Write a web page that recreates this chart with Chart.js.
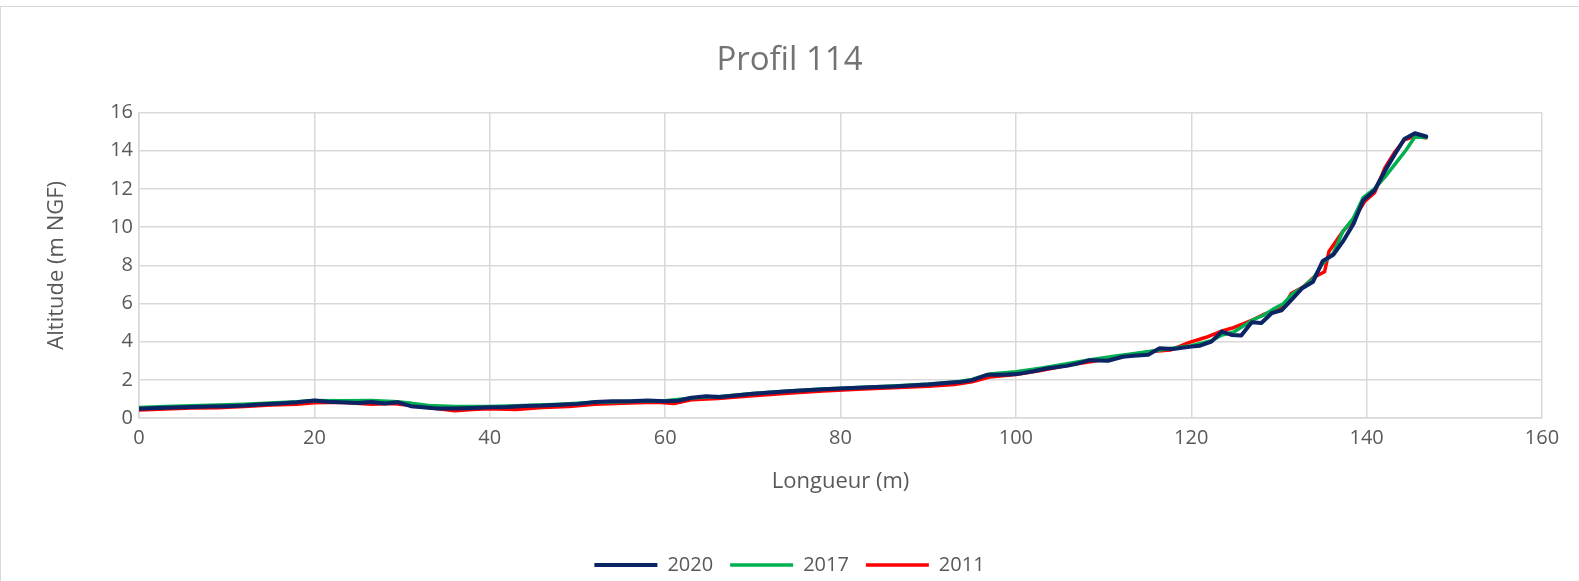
<!DOCTYPE html>
<html>
<head>
<meta charset="utf-8">
<script src="https://cdn.jsdelivr.net/npm/chart.js@4"></script>
<style>
  html, body { margin: 0; padding: 0; background: #fff; overflow: hidden; }
  #frame { position: absolute; left: 0; top: 6px; width: 1700px; height: 700px; border-top: 1.5px solid #d9d9d9; border-left: 1.5px solid #d9d9d9; }
  #wrap { position: absolute; left: 0; top: 0; width: 1579px; height: 581px; }
</style>
</head>
<body>
<div id="frame"></div>
<div id="wrap"><canvas id="profil" width="1579" height="581"></canvas></div>
<script>
// Profil 114 - longueur (m) / altitude (m NGF)
const x2020 = [0, 2, 4, 6, 8, 10, 12, 14, 16, 18, 20, 21.5, 23, 25, 26.5, 28, 29.5, 31, 32, 34,
  36, 38, 40, 42, 44, 46, 48, 50, 52, 54, 56, 58, 60, 61.5, 63, 64.7, 66.2, 68, 70, 72,
  74, 76, 78, 80, 82, 84, 86, 88, 90, 92, 93.5, 95, 96.7, 98.5, 100.1, 102, 103.5, 105.8, 107, 108.4,
  110.5, 112.2, 113.4, 115.1, 116.4, 117.9, 120, 121, 122.3, 123.5, 124.6, 125.7, 126.9, 128, 129.2, 130.3, 131.4, 132.6, 133.9, 135,
  136.2, 137.3, 138.5, 139.6, 140.9, 142.1, 143.2, 144.3, 145.5, 146.8];
const y2020 = [0.48, 0.52, 0.55, 0.58, 0.6, 0.62, 0.65, 0.72, 0.76, 0.82, 0.92, 0.85, 0.83, 0.78, 0.84, 0.76, 0.83, 0.62, 0.58, 0.5,
  0.5, 0.52, 0.56, 0.58, 0.63, 0.65, 0.7, 0.74, 0.84, 0.88, 0.88, 0.92, 0.88, 0.9, 1.06, 1.14, 1.1, 1.18, 1.27, 1.33,
  1.4, 1.46, 1.5, 1.55, 1.58, 1.62, 1.65, 1.7, 1.75, 1.83, 1.88, 1.98, 2.26, 2.27, 2.3, 2.45, 2.59, 2.73, 2.85, 3.03,
  3.0, 3.21, 3.26, 3.31, 3.66, 3.61, 3.74, 3.79, 4.0, 4.53, 4.35, 4.32, 5.02, 4.98, 5.5, 5.64, 6.17, 6.78, 7.14, 8.23,
  8.55, 9.25, 10.16, 11.4, 11.93, 12.95, 13.8, 14.62, 14.92, 14.75];

const x2017 = [0, 3, 6, 9, 12, 15, 18, 20, 23, 26.5, 29, 31, 33, 36, 40, 44, 48, 52, 56, 60,
  63, 66, 70, 74, 78, 82, 86, 90, 93, 95, 97, 100, 103, 106, 108.5, 111, 114, 117, 120, 122.3,
  123.5, 124.8, 125.9, 127.1, 128.2, 129.3, 130.5, 131.6, 132.8, 133.9, 135, 136.2, 137.3, 138.5, 139.6, 140.9, 142.1, 143.4, 144.5, 145.5,
  146.8];
const y2017 = [0.55, 0.6, 0.64, 0.68, 0.72, 0.78, 0.85, 0.92, 0.9, 0.92, 0.86, 0.78, 0.65, 0.6, 0.6, 0.66, 0.72, 0.82, 0.86, 0.9,
  1.05, 1.12, 1.28, 1.42, 1.52, 1.6, 1.68, 1.78, 1.88, 2.02, 2.3, 2.42, 2.62, 2.85, 3.05, 3.22, 3.4, 3.6, 3.79, 4.05,
  4.35, 4.49, 4.81, 5.16, 5.37, 5.69, 5.99, 6.52, 6.87, 7.31, 8.1, 8.63, 9.78, 10.48, 11.54, 12.0, 12.63, 13.39, 14.04, 14.72,
  14.7];

const x2011 = [0, 3, 6, 9, 12, 15, 18, 20, 23, 26.5, 29, 31, 33, 36, 38, 40, 43, 46, 49, 52,
  56, 59, 61, 63, 66, 70, 74, 78, 82, 86, 90, 93, 95, 97, 100, 103, 106, 108.5, 111, 113.5,
  115.5, 117.6, 119.8, 121.7, 123.6, 124.6, 125.9, 127.1, 128.2, 129.3, 130.5, 131.4, 132.8, 133.9, 135.2, 135.7, 137.3, 138.5, 139.8, 140.9,
  142.1, 143.2, 144.3, 145.5, 146.8];
const y2011 = [0.42, 0.47, 0.52, 0.54, 0.6, 0.68, 0.72, 0.8, 0.82, 0.72, 0.76, 0.66, 0.55, 0.38, 0.45, 0.48, 0.45, 0.55, 0.6, 0.72,
  0.78, 0.82, 0.76, 0.95, 1.02, 1.16, 1.3, 1.42, 1.5, 1.58, 1.66, 1.76, 1.9, 2.15, 2.28, 2.5, 2.78, 2.95, 3.15, 3.35,
  3.48, 3.56, 3.96, 4.23, 4.58, 4.7, 4.93, 5.16, 5.41, 5.6, 5.8, 6.52, 6.87, 7.35, 7.66, 8.72, 9.78, 10.4, 11.36, 11.8,
  13.12, 13.92, 14.57, 14.75, 14.68];

const toPoints = (xs, ys) => xs.map((x, i) => ({ x: x, y: ys[i] }));

const textColor = "#595959";
const gridColor = "#d9d9d9";
const fontFamily = "'Open Sans', sans-serif";

function makeSet(label, xs, ys, color, width) {
  return {
    label,
    data: toPoints(xs, ys),
    borderColor: color,
    backgroundColor: color,
    borderWidth: width,
    borderCapStyle: "round",
    borderJoinStyle: "round",
    pointRadius: 0,
    tension: 0,
    fill: false
  };
}

new Chart(document.getElementById("profil"), {
  type: "line",
  data: {
    datasets: [
      makeSet("2020", x2020, y2020, "#0b2463", 4),
      makeSet("2017", x2017, y2017, "#00b050", 3.5),
      makeSet("2011", x2011, y2011, "#ff0000", 3.5)
    ]
  },
  options: {
    responsive: false,
    animation: false,
    layout: { padding: { left: 0, right: 0, top: 0, bottom: -4 } },
    plugins: {
      title: {
        display: true,
        text: "Profil 114",
        color: "#737373",
        font: { family: fontFamily, size: 33, weight: "normal" },
        padding: { top: 41, bottom: 32 }
      },
      legend: {
        position: "bottom",
        labels: {
          color: textColor,
          font: { family: fontFamily, size: 20 },
          usePointStyle: true,
          pointStyle: "line",
          pointStyleWidth: 63,
          boxHeight: 20,
          padding: 17
        }
      },
      tooltip: { enabled: false }
    },
    scales: {
      x: {
        type: "linear",
        min: 0,
        max: 160,
        ticks: {
          stepSize: 20,
          color: textColor,
          padding: 8,
          maxRotation: 0,
          font: { family: fontFamily, size: 20 }
        },
        grid: { color: gridColor, lineWidth: 1.5, drawTicks: false },
        border: { color: gridColor, width: 1.5 },
        title: {
          display: true,
          text: "Longueur (m)",
          color: textColor,
          font: { family: fontFamily, size: 22 },
          padding: { top: 20, bottom: 43 }
        },
        afterFit: scale => { scale.height = 120; }
      },
      y: {
        min: 0,
        max: 16,
        ticks: {
          stepSize: 2,
          color: textColor,
          padding: 6,
          font: { family: fontFamily, size: 20 }
        },
        grid: { color: gridColor, lineWidth: 1.5, drawTicks: false },
        border: { color: gridColor, width: 1.5 },
        title: {
          display: true,
          text: "Altitude (m NGF)",
          color: textColor,
          font: { family: fontFamily, size: 22 },
          padding: { top: 44, bottom: 0 }
        },
        afterFit: scale => { scale.width = 139; }
      },
      // empty right margin so title and legend stay centred on the canvas
      yRight: {
        position: "right",
        min: 0,
        max: 16,
        ticks: { display: false },
        grid: { drawOnChartArea: false, drawTicks: false },
        border: { display: false },
        afterFit: scale => { scale.width = 37; }
      }
    }
  }
});
</script>
</body>
</html>
